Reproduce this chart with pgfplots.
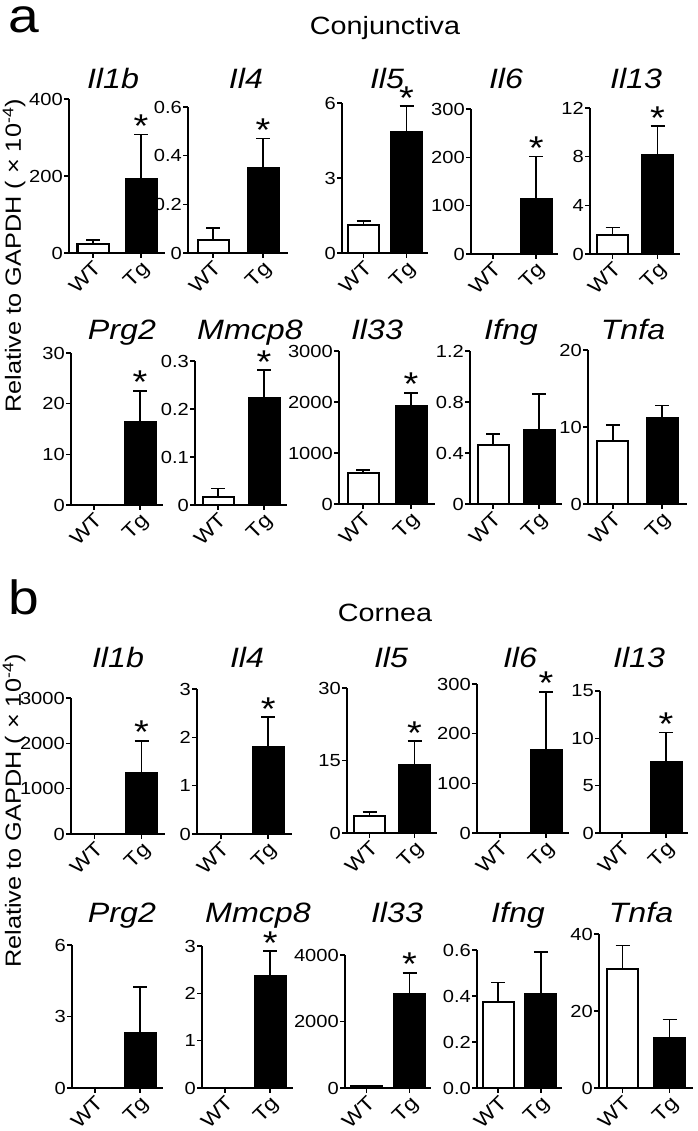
\documentclass[border=0pt]{standalone}
\usepackage{fontspec}
\setmainfont{Liberation Sans}[FakeStretch=1.15]
\usepackage{pgfplots}
\pgfplotsset{compat=1.18}
\pgfplotsset{
  panel/.style={
    scale only axis, anchor=south west, clip=false,
    axis x line=bottom, axis y line=left,
    axis line style={line width=1.9pt, -},
    xmin=-0.5, xmax=1.5, ymin=0,
    xtick={0,1}, xticklabels={WT,Tg},
    tick style={line width=1.6pt, black},
    major tick length=5pt, tick align=outside,
    x tick label style={font=\fontsize{20}{20}\selectfont, rotate=45, anchor=north east, inner sep=1pt},
    y tick label style={font=\fontsize{17.5}{17.5}\selectfont, inner sep=1pt},
  },
  wt/.style={ybar, bar shift=0pt, bar width=31pt, fill=white, draw=black, line width=2pt,
    error bars/y dir=plus, error bars/y explicit,
    error bars/error bar style={line width=1.6pt, black},
    error bars/error mark options={rotate=90, mark size=7pt, line width=1.6pt, black}},
  tg/.style={wt, fill=black},
  star/.style={draw=none, mark=none, nodes near coords={*},
    every node near coord/.append style={anchor=base, yshift=-3pt, inner sep=0pt, font=\fontsize{33}{33}\selectfont}},
}
\newcommand{\gt}[1]{{\fontsize{28}{28}\selectfont\itshape #1}}
\begin{document}
\begin{tikzpicture}
\path[use as bounding box] (0,0) rectangle (697pt,1131pt);
% panel letters and headings
\node[anchor=base west, font=\fontsize{48}{48}\selectfont, inner sep=0pt] at (8pt,1098pt) {a};
\node[anchor=base west, font=\fontsize{48}{48}\selectfont, inner sep=0pt] at (8pt,516pt) {b};
\node[anchor=base, font=\fontsize{25}{25}\selectfont] at (385pt,1096pt) {Conjunctiva};
\node[anchor=base, font=\fontsize{25}{25}\selectfont] at (385pt,509pt) {Cornea};
\node[rotate=90, font=\fontsize{22}{22}\selectfont] at (14pt,875pt) {Relative to GAPDH ( × 10\textsuperscript{-4})};
\node[rotate=90, font=\fontsize{22}{22}\selectfont] at (14pt,320pt) {Relative to GAPDH ( × 10\textsuperscript{-4})};
% gene titles
\node[anchor=base] at (113pt,1042pt) {\gt{Il1b}};
\node[anchor=base] at (246pt,1042pt) {\gt{Il4}};
\node[anchor=base] at (387pt,1042pt) {\gt{Il5}};
\node[anchor=base] at (506pt,1042pt) {\gt{Il6}};
\node[anchor=base] at (636pt,1042pt) {\gt{Il13}};
\node[anchor=base] at (122pt,791pt) {\gt{Prg2}};
\node[anchor=base] at (250pt,791pt) {\gt{Mmcp8}};
\node[anchor=base] at (377pt,791pt) {\gt{Il33}};
\node[anchor=base] at (511pt,791pt) {\gt{Ifng}};
\node[anchor=base] at (633pt,791pt) {\gt{Tnfa}};
\node[anchor=base] at (118pt,463pt) {\gt{Il1b}};
\node[anchor=base] at (247pt,463pt) {\gt{Il4}};
\node[anchor=base] at (391pt,463pt) {\gt{Il5}};
\node[anchor=base] at (520pt,463pt) {\gt{Il6}};
\node[anchor=base] at (639pt,463pt) {\gt{Il13}};
\node[anchor=base] at (122pt,208pt) {\gt{Prg2}};
\node[anchor=base] at (258pt,208pt) {\gt{Mmcp8}};
\node[anchor=base] at (397pt,208pt) {\gt{Il33}};
\node[anchor=base] at (518pt,208pt) {\gt{Ifng}};
\node[anchor=base] at (641pt,208pt) {\gt{Tnfa}};

% ===== a, row 1 =====
\begin{axis}[panel, at={(69pt,878pt)}, width=96pt, height=154pt, ymax=400, ytick={0,200,400}, yticklabels={0,200,400}]
\addplot[wt] coordinates {(0,23) +- (0,10)};
\addplot[tg] coordinates {(1,193) +- (0,115)};
\addplot[star] coordinates {(1,308)};
\end{axis}
\begin{axis}[panel, at={(188pt,878pt)}, width=100pt, height=146pt, ymax=0.6, ytick={0,0.2,0.4,0.6}, yticklabels={0,0.2,0.4,0.6}]
\addplot[wt] coordinates {(0,0.052) +- (0,0.05)};
\addplot[tg] coordinates {(1,0.35) +- (0,0.12)};
\addplot[star] coordinates {(1,0.47)};
\end{axis}
\begin{axis}[panel, at={(342pt,878pt)}, width=86pt, height=150pt, ymax=6, ytick={0,3,6}, yticklabels={0,3,6}]
\addplot[wt] coordinates {(0,1.13) +- (0,0.14)};
\addplot[tg] coordinates {(1,4.83) +- (0,1.04)};
\addplot[star] coordinates {(1,5.87)};
\end{axis}
\begin{axis}[panel, at={(471pt,877pt)}, width=87pt, height=145pt, ymax=300, ytick={0,100,200,300}, yticklabels={0,100,200,300}]
\addplot[wt] coordinates {(0,1) +- (0,0)};
\addplot[tg] coordinates {(1,113) +- (0,89)};
\addplot[star] coordinates {(1,202)};
\end{axis}
\begin{axis}[panel, at={(590pt,877pt)}, width=90pt, height=146pt, ymax=12, ytick={0,4,8,12}, yticklabels={0,4,8,12}]
\addplot[wt] coordinates {(0,1.54) +- (0,0.63)};
\addplot[tg] coordinates {(1,8.1) +- (0,2.4)};
\addplot[star] coordinates {(1,10.5)};
\end{axis}

% ===== a, row 2 =====
\begin{axis}[panel, at={(71pt,626pt)}, width=92pt, height=152pt, ymax=30, ytick={0,10,20,30}, yticklabels={0,10,20,30}]
\addplot[wt] coordinates {(0,0) +- (0,0)};
\addplot[tg] coordinates {(1,16.4) +- (0,6.1)};
\addplot[star] coordinates {(1,22.5)};
\end{axis}
\begin{axis}[panel, at={(195pt,626pt)}, width=92pt, height=144pt, ymax=0.3, ytick={0,0.1,0.2,0.3}, yticklabels={0,0.1,0.2,0.3}]
\addplot[wt] coordinates {(0,0.017) +- (0,0.017)};
\addplot[tg] coordinates {(1,0.223) +- (0,0.058)};
\addplot[star] coordinates {(1,0.281)};
\end{axis}
\begin{axis}[panel, at={(339pt,627pt)}, width=96pt, height=153pt, ymax=3000, ytick={0,1000,2000,3000}, yticklabels={0,1000,2000,3000}]
\addplot[wt] coordinates {(0,613) +- (0,52)};
\addplot[tg] coordinates {(1,1917) +- (0,261)};
\addplot[star] coordinates {(1,2178)};
\end{axis}
\begin{axis}[panel, at={(470pt,627pt)}, width=92pt, height=153pt, ymax=1.2, ytick={0,0.4,0.8,1.2}, yticklabels={0,0.4,0.8,1.2}]
\addplot[wt] coordinates {(0,0.46) +- (0,0.089)};
\addplot[tg] coordinates {(1,0.583) +- (0,0.28)};
\end{axis}
\begin{axis}[panel, at={(588pt,627pt)}, width=99pt, height=154pt, ymax=20, ytick={0,10,20}, yticklabels={0,10,20}]
\addplot[wt] coordinates {(0,8.14) +- (0,2.12)};
\addplot[tg] coordinates {(1,11.17) +- (0,1.63)};
\end{axis}

% ===== b, row 1 =====
\begin{axis}[panel, at={(71pt,297pt)}, width=94pt, height=136pt, ymax=3000, ytick={0,1000,2000,3000}, yticklabels={0,1000,2000,3000}]
\addplot[wt] coordinates {(0,0) +- (0,0)};
\addplot[tg] coordinates {(1,1339) +- (0,717)};
\addplot[star] coordinates {(1,2056)};
\end{axis}
\begin{axis}[panel, at={(197pt,297pt)}, width=95pt, height=145pt, ymax=3, ytick={0,1,2,3}, yticklabels={0,1,2,3}]
\addplot[wt] coordinates {(0,0) +- (0,0)};
\addplot[tg] coordinates {(1,1.81) +- (0,0.61)};
\addplot[star] coordinates {(1,2.42)};
\end{axis}
\begin{axis}[panel, at={(347pt,298pt)}, width=90pt, height=145pt, ymax=30, ytick={0,15,30}, yticklabels={0,15,30}]
\addplot[wt] coordinates {(0,3.45) +- (0,0.85)};
\addplot[tg] coordinates {(1,14.1) +- (0,4.9)};
\addplot[star] coordinates {(1,19.0)};
\end{axis}
\begin{axis}[panel, at={(477pt,298pt)}, width=92pt, height=149pt, ymax=300, ytick={0,100,200,300}, yticklabels={0,100,200,300}]
\addplot[wt] coordinates {(0,0) +- (0,0)};
\addplot[tg] coordinates {(1,168) +- (0,116)};
\addplot[star] coordinates {(1,284)};
\end{axis}
\begin{axis}[panel, at={(600pt,298pt)}, width=88pt, height=142pt, ymax=15, ytick={0,5,10,15}, yticklabels={0,5,10,15}]
\addplot[wt] coordinates {(0,0) +- (0,0)};
\addplot[tg] coordinates {(1,7.53) +- (0,3.07)};
\addplot[star] coordinates {(1,10.6)};
\end{axis}

% ===== b, row 2 =====
\begin{axis}[panel, at={(72pt,43pt)}, width=91pt, height=143pt, ymax=6, ytick={0,3,6}, yticklabels={0,3,6}]
\addplot[wt] coordinates {(0,0) +- (0,0)};
\addplot[tg] coordinates {(1,2.31) +- (0,1.94)};
\end{axis}
\begin{axis}[panel, at={(202pt,43pt)}, width=91pt, height=142pt, ymax=3, ytick={0,1,2,3}, yticklabels={0,1,2,3}]
\addplot[wt] coordinates {(0,0) +- (0,0)};
\addplot[tg] coordinates {(1,2.37) +- (0,0.52)};
\addplot[star] coordinates {(1,2.89)};
\end{axis}
\begin{axis}[panel, at={(345pt,43pt)}, width=86pt, height=133pt, ymax=4000, ytick={0,2000,4000}, yticklabels={0,2000,4000}]
\addplot[wt] coordinates {(0,70) +- (0,0)};
\addplot[tg] coordinates {(1,2829) +- (0,634)};
\addplot[star] coordinates {(1,3463)};
\end{axis}
\begin{axis}[panel, at={(477pt,43pt)}, width=85pt, height=138pt, ymax=0.6, ytick={0,0.2,0.4,0.6}, yticklabels={0.0,0.2,0.4,0.6}]
\addplot[wt] coordinates {(0,0.375) +- (0,0.084)};
\addplot[tg] coordinates {(1,0.407) +- (0,0.183)};
\end{axis}
\begin{axis}[panel, at={(599pt,43pt)}, width=94pt, height=154pt, ymax=40, ytick={0,20,40}, yticklabels={0,20,40}]
\addplot[wt] coordinates {(0,30.8) +- (0,6.2)};
\addplot[tg] coordinates {(1,13.0) +- (0,4.8)};
\end{axis}
\end{tikzpicture}
\end{document}
